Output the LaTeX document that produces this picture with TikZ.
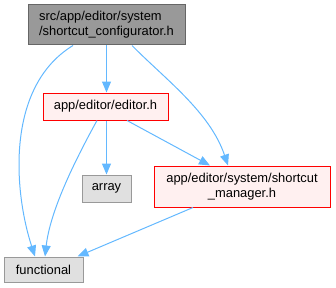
\documentclass[tikz,border=0pt]{standalone}
\usepackage{fontspec}
\setmainfont{Liberation Sans}
\usetikzlibrary{arrows.meta}

\definecolor{edgeblue}{HTML}{63B8FF}
\definecolor{curfill}{HTML}{999999}
\definecolor{curline}{HTML}{666666}
\definecolor{hdrfill}{HTML}{FFF0F0}
\definecolor{sysfill}{HTML}{E0E0E0}
\definecolor{sysline}{HTML}{999999}

\begin{document}
\begin{tikzpicture}[x=1pt,y=1pt,
  font=\fontsize{12.9}{15}\selectfont,
  file/.style={draw,line width=1pt,inner sep=0pt,minimum height=25pt},
  current/.style={file,fill=curfill,draw=curline},
  header/.style={file,fill=hdrfill,draw=red},
  sysinc/.style={file,fill=sysfill,draw=sysline},
  dep/.style={edgeblue,line width=1pt,-{Triangle[length=11pt,width=9pt]}}]
\useasboundingbox (0,0) rectangle (336,287);
% files
\node[current,minimum width=157pt,minimum height=40pt,align=left] (conf) at (106.5,262)
  {src/app/editor/system\\/shortcut\_configurator.h};
\node[header,minimum width=125pt,minimum height=27pt] (editor) at (105.5,180.5) {app/editor/editor.h};
\node[sysinc,minimum width=49pt,minimum height=27pt] (array) at (106.5,98.5) {array};
\node[header,minimum width=176pt,minimum height=41pt,align=center] (mgr) at (242,100.5)
  {app/editor/system/shortcut\\\_manager.h};
\node[sysinc,minimum width=79pt] (functional) at (43.5,17.5) {functional};
% includes
\draw[dep] ([xshift=-33.5pt]conf.south) .. controls (5,200) and (14,95) .. ([xshift=-8.5pt]functional.north);
\draw[dep] (conf.south) -- (conf.south |- editor.north);
\draw[dep] ([xshift=25.5pt]conf.south) .. controls (165,208) and (210,175) .. ([xshift=-14pt]mgr.north);
\draw[dep] (editor.south -| array.north) -- (array.north);
\draw[dep] ([xshift=-8.5pt]editor.south) .. controls (73,123) and (50,75) .. ([xshift=1.5pt]functional.north);
\draw[dep] ([xshift=21.5pt]editor.south) -- ([xshift=-32pt]mgr.north);
\draw[dep] ([xshift=-49pt]mgr.south) -- ([xshift=-6pt]functional.north east);
\end{tikzpicture}
\end{document}
